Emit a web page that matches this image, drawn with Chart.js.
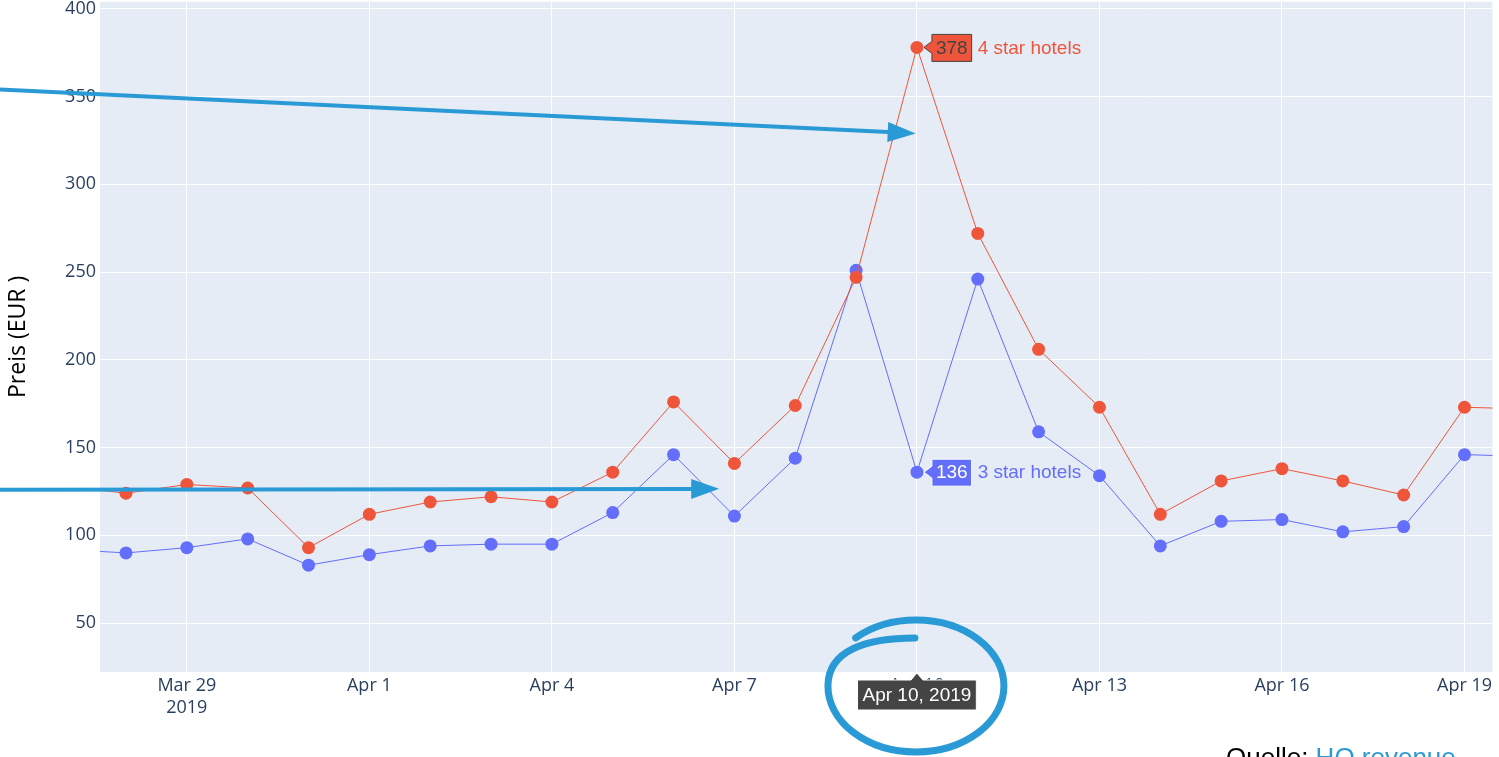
<!DOCTYPE html>
<html>
<head>
<meta charset="utf-8">
<script src="https://cdn.jsdelivr.net/npm/chart.js@4.4.1/dist/chart.umd.min.js"></script>
<style>
  html, body { margin: 0; padding: 0; background: #fff; overflow: hidden; }
  #wrap { position: relative; width: 1499px; height: 757px; overflow: hidden; }
  #myChart { position: absolute; left: 0; top: -13px; }
  #quelle { position: absolute; left: 1226px; top: 742px; font: 26px "Liberation Sans", Arial, sans-serif; color: #000; white-space: nowrap; }
  #quelle span { color: #2a9ad6; text-decoration: underline; }
</style>
</head>
<body>
<div id="wrap">
  <canvas id="myChart" width="1499" height="770"></canvas>
  <div id="quelle">Quelle: <span>HQ revenue</span></div>
</div>
<script>
// days from Mar 27 to Apr 20, 2019
const days = ["Mar 27", "Mar 28", "Mar 29", "Mar 30", "Mar 31", "Apr 1", "Apr 2", "Apr 3", "Apr 4",
  "Apr 5", "Apr 6", "Apr 7", "Apr 8", "Apr 9", "Apr 10", "Apr 11", "Apr 12", "Apr 13", "Apr 14",
  "Apr 15", "Apr 16", "Apr 17", "Apr 18", "Apr 19", "Apr 20"];
const star4 = [128, 124, 129, 127, 93, 112, 119, 122, 119, 136, 176, 141, 174, 247, 378, 272, 206, 173, 112, 131, 138, 131, 123, 173, 172];
const star3 = [92, 90, 93, 98, 83, 89, 94, 95, 95, 113, 146, 111, 144, 251, 136, 246, 159, 134, 94, 108, 109, 102, 105, 146, 145];
const tickDays = ["Mar 29", "Apr 1", "Apr 4", "Apr 7", "Apr 10", "Apr 13", "Apr 16", "Apr 19"];
const yTicks = [50, 100, 150, 200, 250, 300, 350, 400];
const hoverDay = "Apr 10";
const hoverDate = "Apr 10, 2019";

const red = "#EF553B";
const blue = "#636EFA";
const annot = "#2a9ad6";
const hoverIdx = days.indexOf(hoverDay);
const labelFont = "19px 'Liberation Sans', Arial, sans-serif";

function pts(vals) {
  return vals.map((v, i) => ({ x: i, y: v }));
}

function hoverBox(ctx, px, py, num, name, fill, border, textColor, nameColor) {
  ctx.save();
  ctx.font = labelFont;
  let w = ctx.measureText(num).width + 8;
  let left = px + 15, top = py - 13, h = 27;
  ctx.beginPath();
  ctx.moveTo(px + 7, py);
  ctx.lineTo(left, py - 6);
  ctx.lineTo(left, top);
  ctx.lineTo(left + w, top);
  ctx.lineTo(left + w, top + h);
  ctx.lineTo(left, top + h);
  ctx.lineTo(left, py + 6);
  ctx.closePath();
  ctx.fillStyle = fill;
  ctx.fill();
  ctx.strokeStyle = border;
  ctx.lineWidth = 1;
  ctx.stroke();
  ctx.fillStyle = textColor;
  ctx.textBaseline = "middle";
  ctx.textAlign = "center";
  ctx.fillText(num, left + w / 2, py + 1);
  ctx.textAlign = "left";
  ctx.fillStyle = nameColor;
  ctx.fillText(name, left + w + 6, py + 1);
  ctx.restore();
}

function arrow(ctx, x1, y1, x2, y2) {
  let a = Math.atan2(y2 - y1, x2 - x1);
  let len = 28, hw = 10;
  let bx = x2 - len * Math.cos(a), by = y2 - len * Math.sin(a);
  ctx.beginPath();
  ctx.moveTo(x1, y1);
  ctx.lineTo(bx, by);
  ctx.stroke();
  ctx.beginPath();
  ctx.moveTo(x2, y2);
  ctx.lineTo(bx + hw * Math.sin(a), by - hw * Math.cos(a));
  ctx.lineTo(bx - hw * Math.sin(a), by + hw * Math.cos(a));
  ctx.closePath();
  ctx.fill();
}

const overlay = {
  id: "overlay",
  beforeDraw(chart) {
    let { ctx, chartArea: a } = chart;
    ctx.save();
    ctx.fillStyle = "#E5ECF6";
    ctx.fillRect(a.left, a.top, a.right - a.left, a.bottom - a.top);
    ctx.restore();
  },
  afterDraw(chart) {
    let ctx = chart.ctx;
    let xs = chart.scales.x, ys = chart.scales.y;
    let m4 = chart.getDatasetMeta(0).data[hoverIdx];
    let m3 = chart.getDatasetMeta(1).data[hoverIdx];
    hoverBox(ctx, m4.x, m4.y, String(star4[hoverIdx]), "4 star hotels", red, "#444", "#444", red);
    hoverBox(ctx, m3.x, m3.y, String(star3[hoverIdx]), "3 star hotels", blue, "#fff", "#fff", blue);

    // x hover label
    let hx = xs.getPixelForValue(hoverIdx), by = chart.chartArea.bottom;
    ctx.save();
    ctx.font = labelFont;
    let w = ctx.measureText(hoverDate).width + 10;
    ctx.fillStyle = "#444";
    ctx.strokeStyle = "#fff";
    ctx.lineWidth = 1;
    ctx.beginPath();
    ctx.moveTo(hx, by + 1);
    ctx.lineTo(hx + 6, by + 8);
    ctx.lineTo(hx + w / 2, by + 8);
    ctx.lineTo(hx + w / 2, by + 38);
    ctx.lineTo(hx - w / 2, by + 38);
    ctx.lineTo(hx - w / 2, by + 8);
    ctx.lineTo(hx - 6, by + 8);
    ctx.closePath();
    ctx.fill();
    ctx.stroke();
    ctx.fillStyle = "#fff";
    ctx.textAlign = "center";
    ctx.textBaseline = "middle";
    ctx.fillText(hoverDate, hx, by + 24);
    ctx.restore();

    // hand drawn annotations
    ctx.save();
    ctx.strokeStyle = annot;
    ctx.fillStyle = annot;
    ctx.lineWidth = 4;
    ctx.lineCap = "round";
    ctx.lineJoin = "round";
    arrow(ctx, 0, ys.getPixelForValue(354), xs.getPixelForValue(hoverIdx - 0.02), ys.getPixelForValue(329));
    arrow(ctx, 0, ys.getPixelForValue(126), xs.getPixelForValue(hoverIdx - 3.25), ys.getPixelForValue(126.5));
    ctx.lineWidth = 7;
    ctx.beginPath();
    ctx.moveTo(hx - 2, by - 34);
    ctx.bezierCurveTo(hx - 50, by - 34, hx - 89, by - 22, hx - 89, by + 14);
    ctx.ellipse(hx - 1, by + 14, 88, 66, 0, Math.PI, -Math.PI * 0.74, true);
    ctx.stroke();
    ctx.restore();
  }
};

new Chart(document.getElementById("myChart").getContext("2d"), {
  type: "line",
  data: {
    datasets: [
      {
        label: "4 star hotels",
        data: pts(star4),
        borderColor: red,
        backgroundColor: red,
        borderWidth: 1,
        pointRadius: 6.5,
        pointBorderWidth: 0,
      },
      {
        label: "3 star hotels",
        data: pts(star3),
        borderColor: blue,
        backgroundColor: blue,
        borderWidth: 1,
        pointRadius: 6.5,
        pointBorderWidth: 0,
      },
    ],
  },
  plugins: [overlay],
  options: {
    responsive: false,
    animation: false,
    devicePixelRatio: 1,
    layout: { padding: { top: 0, right: 4, left: 0, bottom: 0 } },
    plugins: { legend: { display: false }, tooltip: { enabled: false } },
    scales: {
      x: {
        type: "linear",
        min: 0.573,
        max: 23.46,
        grid: { color: "#fff", lineWidth: 1, drawTicks: false },
        border: { display: false },
        afterFit: (s) => { s.height = 85; },
        afterBuildTicks: (s) => { s.ticks = tickDays.map((d) => ({ value: days.indexOf(d) })); },
        ticks: {
          color: "#2a3f5f",
          font: { family: "'Open Sans', sans-serif", size: 18 },
          padding: 3,
          maxRotation: 0,
          autoSkip: false,
          callback: (v) => (days[v] === "Mar 29" ? ["Mar 29", "2019"] : days[v]),
        },
      },
      y: {
        min: 22.16,
        max: 403.98,
        grid: { color: "#fff", lineWidth: 1, drawTicks: false },
        border: { display: false },
        afterFit: (s) => { s.width = 100; },
        afterBuildTicks: (s) => { s.ticks = yTicks.map((v) => ({ value: v })); },
        ticks: {
          color: "#2a3f5f",
          font: { family: "'Open Sans', sans-serif", size: 18 },
          padding: 4,
        },
        title: {
          display: true,
          text: "Preis (EUR )",
          color: "#000",
          font: { family: "'Open Sans', sans-serif", size: 23 },
          padding: { top: 5, bottom: 0 },
        },
      },
    },
  },
});
</script>
</body>
</html>
